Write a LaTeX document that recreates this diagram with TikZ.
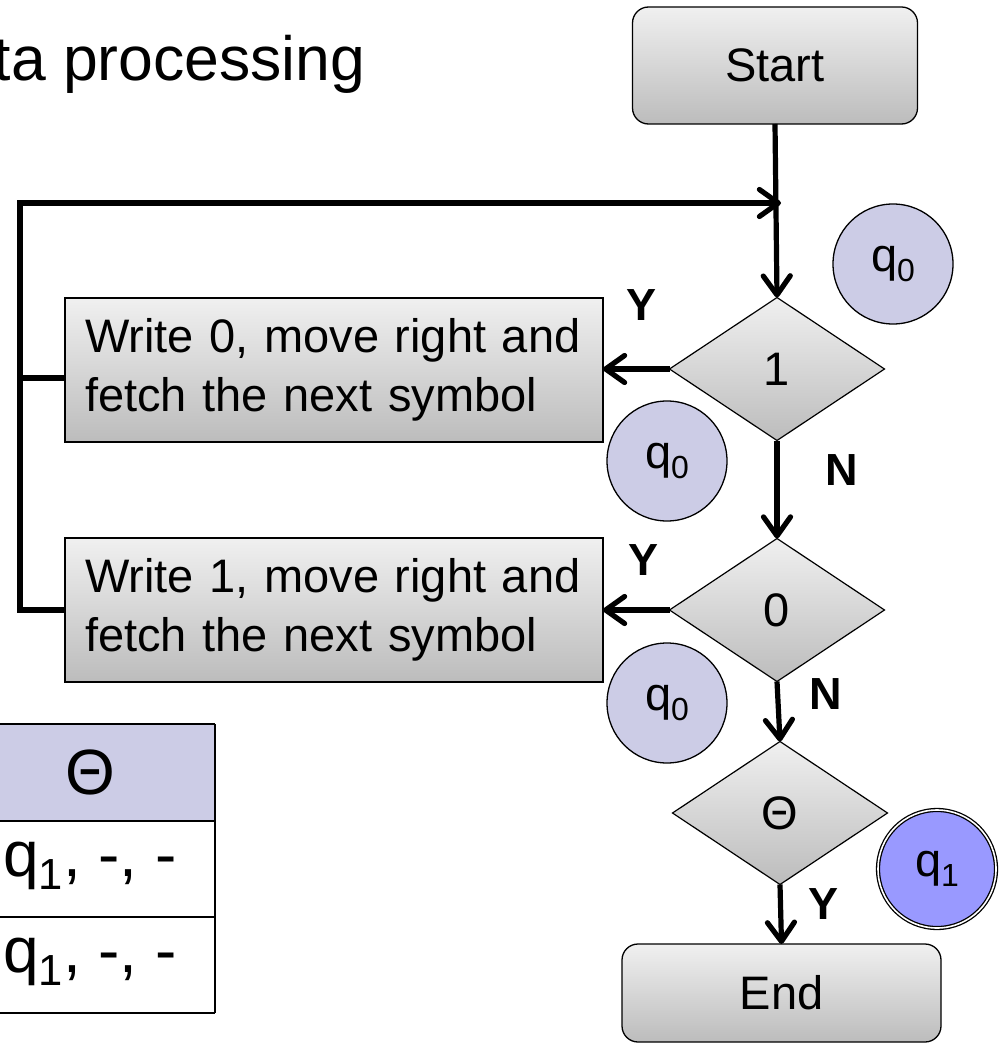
\documentclass[tikz,border=0pt]{standalone}
\usepackage{fontspec}
\setmainfont{Liberation Sans}
\usetikzlibrary{shapes.geometric,arrows.meta,calc}

% lowered, reduced index for state names such as q0, q1
\newcommand{\lowidx}[1]{\raisebox{-0.2em}{\scalebox{0.68}{#1}}}

\definecolor{stateblue}{RGB}{204,204,230}
\definecolor{finalblue}{RGB}{153,153,255}
\definecolor{boxtop}{RGB}{240,240,240}
\definecolor{boxbot}{RGB}{188,188,188}

\begin{document}
\begin{tikzpicture}[x=1pt,y=-1pt,
  fmain/.style={font=\fontsize{47}{59}\selectfont},
  terminal/.style={draw, line width=1.3pt, rounded corners=16pt,
    top color=boxtop, bottom color=boxbot,
    minimum width=285pt, minimum height=117pt,
    inner sep=0pt, outer sep=0pt, fmain},
  decision/.style={diamond, draw, line width=1.2pt, aspect=1.5,
    top color=boxtop, bottom color=boxbot,
    minimum width=215pt, minimum height=143pt,
    inner sep=0pt, outer sep=0pt, fmain},
  action/.style={rectangle, draw, line width=1.3pt,
    top color=boxtop, bottom color=boxbot,
    text width=498pt, inner xsep=20pt, minimum height=144pt,
    align=left, outer sep=0pt, fmain},
  state/.style={circle, draw, line width=1.3pt, fill=stateblue,
    minimum size=120pt, inner sep=0pt, fmain},
  final/.style={circle, draw, line width=1.3pt, double=white,
    double distance=1.6pt, fill=finalblue,
    minimum size=118pt, inner sep=0pt, fmain},
  flow/.style={line width=5.2pt,
    -{Straight Barb[length=19pt, width=27pt, line width=5.2pt, round]}},
  rail/.style={line width=5.2pt},
  answer/.style={font=\fontsize{45}{45}\selectfont\bfseries, inner sep=0pt},
  cell/.style={font=\fontsize{64}{64}\selectfont, inner sep=0pt},
  grid/.style={line width=2.5pt}
]
\useasboundingbox (0,0) rectangle (998,1043);
\clip (0,0) rectangle (998,1043);

% heading
\node[anchor=base west, inner sep=0pt, font=\fontsize{62.5}{62.5}\selectfont]
  (title) at (-6.5,81) {ta processing};

% transition table, right-most column
\fill[stateblue] (-40,724) rectangle (215,821);
\draw[grid] (-40,724) -- (215,724);
\draw[grid] (-40,821) -- (215,821);
\draw[grid] (-40,917) -- (215,917);
\draw[grid] (-40,1013) -- (215,1013);
\draw[grid] (215,724) -- (215,1013);
\node[cell] (hdr) at (90,772) {Θ};
\node[cell] (row1) at (90,866) {q\lowidx{1}, -, -};
\node[cell] (row2) at (90,962) {q\lowidx{1}, -, -};

% flowchart
\node[terminal] (start) at (775,65.5) {Start};
\node[decision] (d1) at (777,369) {1};
\node[decision] (d2) at (777,610) {0};
\node[decision] (d3) at (780,813) {Θ};
\node[terminal, minimum width=319pt, minimum height=98pt] (end) at (781.5,993) {End};

\node[action] (box1) at (334,370) {Write 0, move right and\\fetch the next symbol};
\node[action] (box2) at (334,610) {Write 1, move right and\\fetch the next symbol};

% states
\node[state] (s1) at (893,264) {q\lowidx{0}};
\node[state] (s2) at (667,461) {q\lowidx{0}};
\node[state] (s3) at (667,703) {q\lowidx{0}};
\node[final] (s4) at (937,869) {q\lowidx{1}};

% connectors
\coordinate (join) at (781,203);
\coordinate (railtop) at (20,203);
\coordinate (tap) at ([yshift=-8pt]box1.west);

\draw[flow] (start.south) -- (d1.north);
\draw[flow] (box2.west) -| (railtop) -- (join);
\draw[rail] (tap) -- (tap -| railtop);
\draw[flow] (d1.west) -- (d1.west -| box1.east);
\draw[flow] (d1.south) -- (d2.north);
\draw[flow] (d2.west) -- (d2.west -| box2.east);
\draw[flow] (d2.south) -- (d3.north);
\draw[flow] (d3.south) -- (end.north);

% branch labels
\node[answer] (y1) at (641,305) {Y};
\node[answer] (n1) at (842,470) {N};
\node[answer] (y2) at (643,560) {Y};
\node[answer] (n2) at (826,694) {N};
\node[answer] (y3) at (823,904) {Y};
\end{tikzpicture}
\end{document}
